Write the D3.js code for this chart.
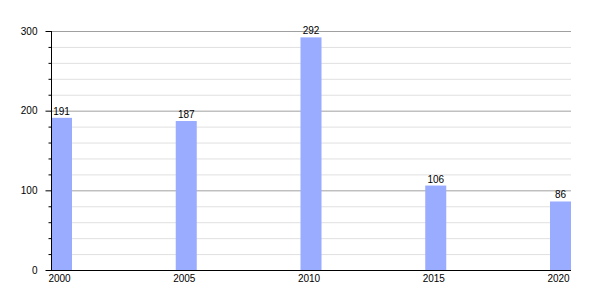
<!DOCTYPE html>
<html>
<head>
<meta charset="utf-8">
<script src="https://cdn.jsdelivr.net/npm/d3@7"></script>
<style>
  body { margin: 0; background: #fff; }
  text { font-family: "Liberation Sans", Arial, sans-serif; font-size: 10px; fill: #000; }
</style>
</head>
<body>
<svg id="chart" width="600" height="300"></svg>
<script>
// data
const years = [2000, 2005, 2010, 2015, 2020];
const values = [191, 187, 292, 106, 86];
const yTicks = [0, 100, 200, 300];

const svg = d3.select("#chart");
const margin = { left: 51, right: 571, top: 31, bottom: 270 };
const barW = 21;

const x = d3.scaleLinear().domain([2000, 2020]).range([margin.left, margin.right - barW]);
const y = d3.scaleLinear().domain([0, 300]).range([margin.bottom, margin.top]);

// minor gridlines every 20
const minor = d3.range(20, 300, 20).filter(v => v % 100 !== 0);
svg.append("g").selectAll("line")
    .data(minor)
    .join("line")
    .attr("x1", margin.left).attr("x2", margin.right)
    .attr("y1", d => y(d) + 0.5).attr("y2", d => y(d) + 0.5)
    .attr("stroke", "#e0e0e0")
    .attr("stroke-width", 1);

// major gridlines
svg.append("g").selectAll("line")
    .data(yTicks.filter(v => v > 0))
    .join("line")
    .attr("x1", margin.left).attr("x2", margin.right)
    .attr("y1", d => y(d) + 0.5).attr("y2", d => y(d) + 0.5)
    .attr("stroke", "#a0a0a0")
    .attr("stroke-width", 1);

// bars
svg.append("g").selectAll("rect")
    .data(values)
    .join("rect")
    .attr("x", (d, i) => x(years[i]))
    .attr("y", d => y(d))
    .attr("width", barW)
    .attr("height", d => y(0) - y(d))
    .attr("fill", "#9aacff");

// value labels
svg.append("g").selectAll("text")
    .data(values)
    .join("text")
    .attr("x", (d, i) => x(years[i]) + barW / 2)
    .attr("y", d => y(d) - 3)
    .attr("text-anchor", "middle")
    .text(d => d);

// y axis
const yAxis = svg.append("g").attr("transform", `translate(${margin.left + 0.5},0)`);
yAxis.append("line")
    .attr("x1", 0).attr("x2", 0)
    .attr("y1", margin.top).attr("y2", margin.bottom)
    .attr("stroke", "#000");
yAxis.selectAll(".minor")
    .data(minor)
    .join("line")
    .attr("class", "minor")
    .attr("x1", -3).attr("x2", 0)
    .attr("y1", d => y(d) + 0.5).attr("y2", d => y(d) + 0.5)
    .attr("stroke", "#000");
yAxis.selectAll(".major")
    .data(yTicks)
    .join("line")
    .attr("class", "major")
    .attr("x1", -6).attr("x2", 0)
    .attr("y1", d => y(d) + 0.5).attr("y2", d => y(d) + 0.5)
    .attr("stroke", "#000");
yAxis.selectAll("text")
    .data(yTicks)
    .join("text")
    .attr("x", -14)
    .attr("y", d => y(d))
    .attr("dy", "0.35em")
    .attr("text-anchor", "end")
    .text(d => d);

// x axis
svg.append("line")
    .attr("x1", margin.left).attr("x2", margin.right)
    .attr("y1", margin.bottom + 0.5).attr("y2", margin.bottom + 0.5)
    .attr("stroke", "#000");
svg.append("g").selectAll("text")
    .data(years)
    .join("text")
    .attr("x", d => x(d) + barW / 2 - 2)
    .attr("y", margin.bottom + 12)
    .attr("text-anchor", "middle")
    .text(d => d);
</script>
</body>
</html>
